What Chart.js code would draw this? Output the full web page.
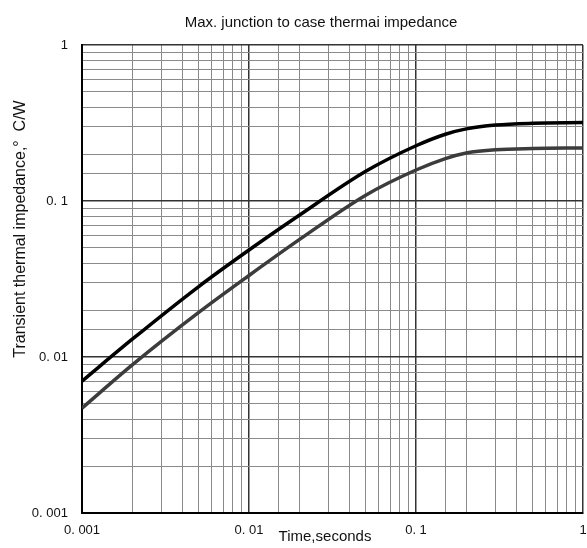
<!DOCTYPE html>
<html>
<head>
<meta charset="utf-8">
<script src="https://cdn.jsdelivr.net/npm/chart.js@4.4.1/dist/chart.umd.min.js"></script>
<style>
  html, body { margin: 0; padding: 0; background: #ffffff; }
  #c { display: block; }
</style>
</head>
<body>
<canvas id="c" width="587" height="548"></canvas>
<script>
// ---- data ----
const timeSeconds = [0.001, 0.002, 0.005, 0.01, 0.02, 0.05, 0.1, 0.15, 0.2, 0.3, 0.5, 1];
const upperImpedance = [0.0070, 0.0130, 0.0283, 0.0485, 0.081, 0.155, 0.226, 0.268, 0.290, 0.307, 0.315, 0.318];
const lowerImpedance = [0.0047, 0.0089, 0.0193, 0.0333, 0.0565, 0.109, 0.158, 0.187, 0.203, 0.213, 0.217, 0.219];

const xTickValues = [0.001, 0.01, 0.1, 1];
const xTickLabels = ['0. 001', '0. 01', '0. 1', '1'];
const yTickValues = [1, 0.1, 0.01, 0.001];
const yTickLabels = ['1', '0. 1', '0. 01', '0. 001'];

const chartTitle = 'Max. junction to case thermai impedance';
const xTitle = 'Time,seconds';
const yTitle = 'Transient thermal impedance,\u00B0  C/W';

const FONT = '"Liberation Sans", Arial, Helvetica, sans-serif';

function labelFor(values, labels, v) {
  for (let i = 0; i < values.length; i++) {
    if (Math.abs(Math.log10(v) - Math.log10(values[i])) < 1e-6) return labels[i];
  }
  return '';
}
function isDecade(v) {
  const l = Math.log10(v);
  return Math.abs(l - Math.round(l)) < 1e-6;
}

const upperPts = timeSeconds.map((t, i) => ({ x: t, y: upperImpedance[i] }));
const lowerPts = timeSeconds.map((t, i) => ({ x: t, y: lowerImpedance[i] }));

const textPlugin = {
  id: 'texts',
  afterDraw(chart) {
    const ctx = chart.ctx;
    ctx.save();
    ctx.fillStyle = '#111';
    ctx.textAlign = 'center';
    ctx.textBaseline = 'alphabetic';
    ctx.font = '15px ' + FONT;
    ctx.fillText(chartTitle, 321, 27);
    ctx.textBaseline = 'middle';
    ctx.fillText(xTitle, 325, 537);
    ctx.translate(21, 229);
    ctx.rotate(-Math.PI / 2);
    ctx.font = '16px ' + FONT;
    ctx.fillText(yTitle, 0, 0);
    ctx.restore();
  }
};

new Chart(document.getElementById('c'), {
  type: 'line',
  data: {
    datasets: [
      {
        label: 'upper',
        data: upperPts,
        borderColor: '#000000',
        borderWidth: 3.5,
        pointRadius: 0,
        cubicInterpolationMode: 'monotone',
        fill: false
      },
      {
        label: 'lower',
        data: lowerPts,
        borderColor: '#3c3c3c',
        borderWidth: 3.5,
        pointRadius: 0,
        cubicInterpolationMode: 'monotone',
        fill: false
      }
    ]
  },
  options: {
    responsive: false,
    animation: false,
    devicePixelRatio: 1,
    layout: { padding: { left: 0, right: 4, top: 45, bottom: 0 } },
    plugins: {
      legend: { display: false },
      title: { display: false },
      tooltip: { enabled: false }
    },
    scales: {
      x: {
        type: 'logarithmic',
        min: 0.001,
        max: 1,
        afterFit(scale) {
          scale.height = 35;
          scale.paddingLeft = 0;
          scale.paddingRight = 0;
        },
        border: { display: true, color: '#000000', width: 2 },
        grid: {
          drawTicks: false,
          color: (c) => (c.tick && isDecade(c.tick.value)) ? '#333333' : '#8a8a8a',
          lineWidth: (c) => (c.tick && isDecade(c.tick.value)) ? 1.5 : 1
        },
        ticks: {
          autoSkip: false,
          maxRotation: 0,
          padding: 10,
          color: '#111',
          font: { family: FONT, size: 13 },
          callback: (v) => labelFor(xTickValues, xTickLabels, v)
        }
      },
      y: {
        type: 'logarithmic',
        min: 0.001,
        max: 1,
        afterFit(scale) {
          scale.width = 82;
          scale.paddingTop = 0;
          scale.paddingBottom = 0;
        },
        border: { display: true, color: '#000000', width: 2 },
        grid: {
          drawTicks: false,
          color: (c) => (c.tick && isDecade(c.tick.value)) ? '#333333' : '#8a8a8a',
          lineWidth: (c) => (c.tick && isDecade(c.tick.value)) ? 1.5 : 1
        },
        ticks: {
          autoSkip: false,
          padding: 14,
          color: '#111',
          font: { family: FONT, size: 13 },
          callback: (v) => labelFor(yTickValues, yTickLabels, v)
        }
      }
    }
  },
  plugins: [textPlugin]
});
</script>
</body>
</html>
